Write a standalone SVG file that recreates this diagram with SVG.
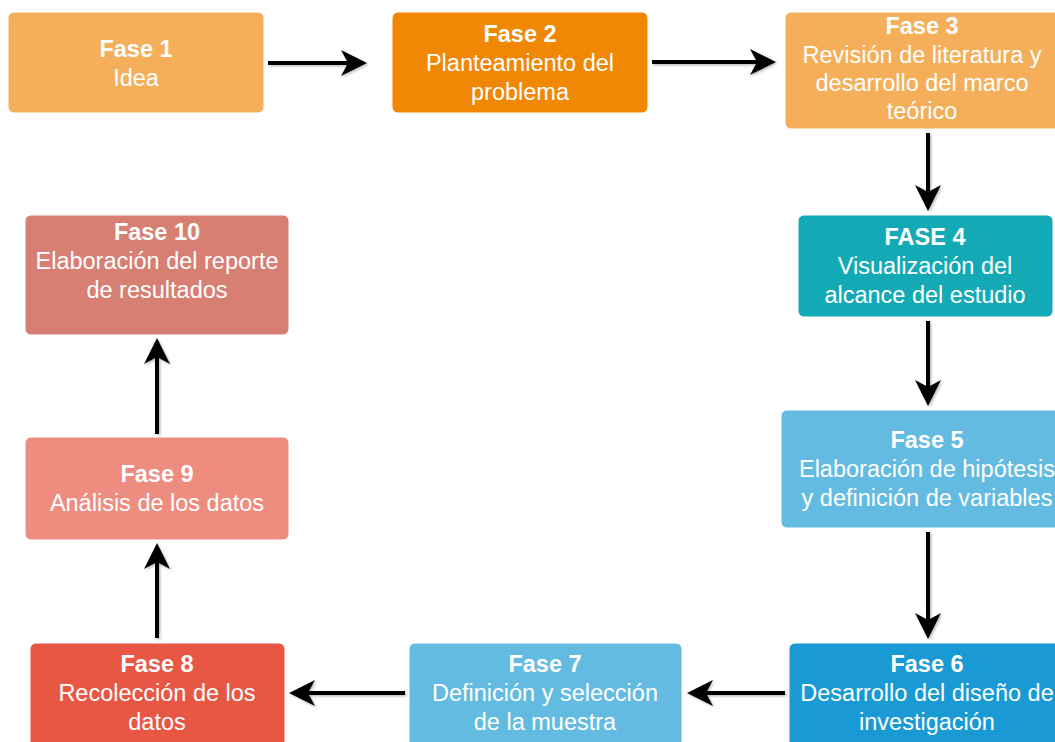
<svg xmlns="http://www.w3.org/2000/svg" width="1055" height="742" viewBox="0 0 1055 742">
<style>
.box{stroke:#ffffff;stroke-width:1}
.t{font-family:"Liberation Sans",Arial,sans-serif;font-size:23.5px;fill:#ffffff;text-anchor:middle}
.b{font-weight:bold}
.e{fill:none;stroke:#000000;stroke-width:4;marker-end:url(#ah)}
</style>
<defs>
<marker id="ah" viewBox="0 0 26 26" markerWidth="26" markerHeight="26" refX="16" refY="13" orient="auto" markerUnits="userSpaceOnUse">
<path d="M0,0 L26,13 L0,26 L7,13 Z" fill="#000000"/>
</marker>
<filter id="sh" filterUnits="userSpaceOnUse" x="0" y="0" width="1055" height="742">
<feDropShadow dx="1.5" dy="1.5" stdDeviation="1.2" flood-color="#000000" flood-opacity="0.25"/>
</filter>
</defs>
<rect width="1055" height="742" fill="#ffffff"/>
<g id="connectors" filter="url(#sh)">
<path class="e" d="M268,63 L357,63"/>
<path class="e" d="M652,62 L766,62"/>
<path class="e" d="M928,133 L928,201"/>
<path class="e" d="M928,321 L928,396"/>
<path class="e" d="M928,532 L928,629"/>
<path class="e" d="M785,693 L697,693"/>
<path class="e" d="M405,693 L299,693"/>
<path class="e" d="M157,638 L157,553"/>
<path class="e" d="M157,434 L157,348"/>
</g>
<g id="n1">
<rect class="box" x="8" y="12" width="256" height="101" rx="6" fill="#F5AF5A"/>
<text class="t b" x="136" y="57">Fase 1</text>
<text class="t" x="136" y="86">Idea</text>
</g>
<g id="n2">
<rect class="box" x="392" y="12" width="256" height="101" rx="6" fill="#F08705"/>
<text class="t b" x="520" y="42">Fase 2</text>
<text class="t" x="520" y="71">Planteamiento del</text>
<text class="t" x="520" y="100">problema</text>
</g>
<g id="n3">
<rect class="box" x="785" y="12" width="276" height="117" rx="6" fill="#F5AF5A"/>
<text class="t b" x="922" y="34">Fase 3</text>
<text class="t" x="922" y="63">Revisión de literatura y</text>
<text class="t" x="922" y="91">desarrollo del marco</text>
<text class="t" x="922" y="119">teórico</text>
</g>
<g id="n4">
<rect class="box" x="798" y="215" width="255" height="102" rx="6" fill="#14AAB5"/>
<text class="t b" x="925" y="245">FASE 4</text>
<text class="t" x="925" y="274">Visualización del</text>
<text class="t" x="925" y="303">alcance del estudio</text>
</g>
<g id="n5">
<rect class="box" x="781" y="410" width="282" height="118" rx="6" fill="#64BBE1"/>
<text class="t b" x="927" y="448">Fase 5</text>
<text class="t" x="927" y="477">Elaboración de hipótesis</text>
<text class="t" x="927" y="506">y definición de variables</text>
</g>
<g id="n6">
<rect class="box" x="789" y="643" width="276" height="110" rx="6" fill="#1A9AD4"/>
<text class="t b" x="927" y="672">Fase 6</text>
<text class="t" x="927" y="701">Desarrollo del diseño de</text>
<text class="t" x="927" y="730">investigación</text>
</g>
<g id="n7">
<rect class="box" x="409" y="643" width="273" height="110" rx="6" fill="#64BBE1"/>
<text class="t b" x="545" y="672">Fase 7</text>
<text class="t" x="545" y="701">Definición y selección</text>
<text class="t" x="545" y="730">de la muestra</text>
</g>
<g id="n8">
<rect class="box" x="30" y="643" width="255" height="110" rx="6" fill="#E85744"/>
<text class="t b" x="157" y="672">Fase 8</text>
<text class="t" x="157" y="701">Recolección de los</text>
<text class="t" x="157" y="730">datos</text>
</g>
<g id="n9">
<rect class="box" x="25" y="437" width="264" height="103" rx="6" fill="#EF8C80"/>
<text class="t b" x="157" y="482">Fase 9</text>
<text class="t" x="157" y="511">Análisis de los datos</text>
</g>
<g id="n10">
<rect class="box" x="25" y="215" width="264" height="120" rx="6" fill="#D87F74"/>
<text class="t b" x="157" y="240">Fase 10</text>
<text class="t" x="157" y="269">Elaboración del reporte</text>
<text class="t" x="157" y="298">de resultados</text>
</g>
</svg>
